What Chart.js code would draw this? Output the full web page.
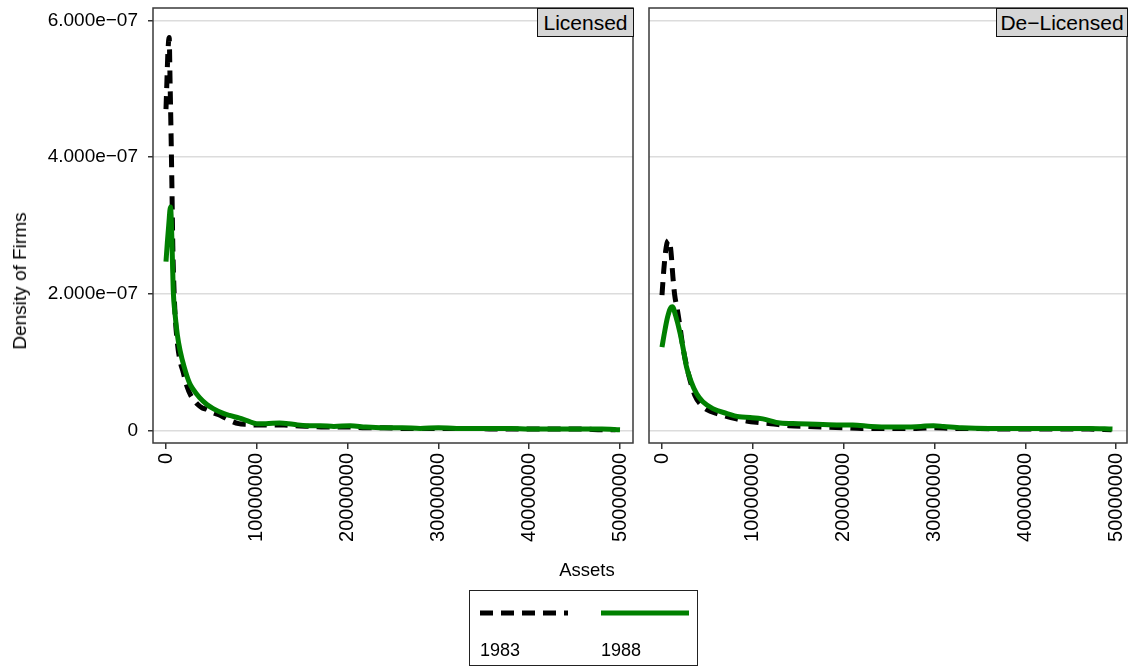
<!DOCTYPE html>
<html>
<head>
<meta charset="utf-8">
<script src="https://cdn.jsdelivr.net/npm/chart.js"></script>
<style>
body{margin:0;background:#fff;width:1129px;height:667px;position:relative;overflow:hidden;font-family:"Liberation Sans",Arial,sans-serif;color:#000}
.panel{position:absolute;top:0}
.strip{position:absolute;top:8px;height:29px;background:#d6d6d6;border:1px solid #111;font-size:21px;line-height:28px;text-align:center;box-sizing:border-box}
.ytitle{position:absolute;left:20px;top:281px;font-size:19px;white-space:nowrap;transform:translate(-50%,-50%) rotate(-90deg)}
.xtitle{position:absolute;left:587px;top:570px;font-size:18.5px;transform:translate(-50%,-50%)}
.legend{position:absolute;left:469px;top:590px;width:229px;height:76px;border:1px solid #222;box-sizing:border-box}
.legend span{position:absolute;top:49px;font-size:18px}
</style>
</head>
<body>
<div class="panel" style="left:0"><canvas id="lic" width="640" height="560"></canvas></div>
<div class="panel" style="left:640px"><canvas id="del" width="489" height="560"></canvas></div>
<div class="strip" style="left:537px;width:97px">Licensed</div>
<div class="strip" style="left:996px;width:132px">De&minus;Licensed</div>
<div class="ytitle">Density of Firms</div>
<div class="xtitle">Assets</div>
<div class="legend">
  <svg width="229" height="40" style="position:absolute;left:0;top:0">
    <line x1="10" y1="22" x2="98" y2="22" stroke="#000" stroke-width="5" stroke-dasharray="13 8"/>
    <line x1="131" y1="22" x2="219" y2="22" stroke="#008000" stroke-width="5"/>
  </svg>
  <span style="left:10px">1983</span>
  <span style="left:131px">1988</span>
</div>
<script>
// kernel densities
// assets in millions, density in units of 1e-7
const licAssets83 = [0,0.1,0.2,0.35,0.45,0.55,0.65,0.75,0.9,1.0,1.2,1.5,1.9,2.3,2.7,3.0,3.5,4.0,4.5,5.0,6,7,8,9,10,11,12,13,14,16,18,20,22,24,26,28,30,32,34,36,38,40,42,44,46,48,49.5];
const licDens83   = [4.7,5.1,5.5,5.75,5.1,4.4,3.6,2.7,2.0,1.7,1.35,1.05,0.85,0.65,0.52,0.46,0.38,0.33,0.31,0.27,0.22,0.15,0.1,0.09,0.08,0.08,0.08,0.08,0.07,0.06,0.05,0.05,0.04,0.04,0.03,0.03,0.03,0.03,0.03,0.02,0.02,0.02,0.02,0.02,0.02,0.01,0.01];
const licAssets88 = [0,0.15,0.3,0.5,0.65,0.8,1.0,1.25,1.55,2.0,2.6,3.0,3.7,4.5,5.2,6.3,7.0,8.1,9.0,10,11,12.5,14,15.5,17,18.5,20.3,22,24,26,28,30,32,34,36,38,40,42,44,46,48,50];
const licDens88   = [2.47,2.75,3.0,3.27,2.8,2.05,1.7,1.4,1.17,0.93,0.69,0.6,0.48,0.38,0.32,0.25,0.22,0.18,0.14,0.1,0.1,0.11,0.09,0.07,0.07,0.06,0.07,0.05,0.04,0.04,0.03,0.04,0.03,0.03,0.03,0.03,0.02,0.02,0.02,0.02,0.02,0.01];

const delAssets83 = [0,0.2,0.4,0.6,0.8,1.0,1.2,1.4,1.7,2.0,2.3,2.7,3.1,3.6,4.2,5.0,6,7,8.2,9.3,10.4,12,14,16,18,20,22,24,26,28,30,32,35,38,41,44,47,49.5];
const delDens83   = [1.98,2.35,2.62,2.76,2.78,2.6,2.25,1.98,1.76,1.5,1.22,0.95,0.73,0.52,0.39,0.3,0.25,0.21,0.17,0.14,0.12,0.1,0.07,0.06,0.05,0.04,0.03,0.03,0.03,0.03,0.04,0.03,0.03,0.02,0.02,0.02,0.02,0.01];
const delAssets88 = [0,0.3,0.6,0.9,1.15,1.5,2.0,2.4,2.7,3.2,3.8,4.5,5.6,7.1,8.5,9.7,11.1,13,15,17,19.6,21,23,25,27,28.5,29.9,31,33,36,39,42,45,47,49.6];
const delDens88   = [1.22,1.45,1.65,1.78,1.81,1.68,1.42,1.15,0.93,0.72,0.54,0.42,0.32,0.25,0.2,0.19,0.17,0.11,0.1,0.09,0.08,0.08,0.06,0.05,0.05,0.06,0.07,0.06,0.04,0.03,0.03,0.03,0.03,0.03,0.02];

const xTicks = [0,10000000,20000000,30000000,40000000,50000000];
const xTickLabels = ['0','10000000','20000000','30000000','40000000','50000000'];
const yTicks = [0,2e-7,4e-7,6e-7];
const yTickLabels = ['0','2.000e\u221207','4.000e\u221207','6.000e\u221207'];

Chart.defaults.font.family = '"Liberation Sans", Arial, sans-serif';
Chart.defaults.color = '#000';

function pts(a,d){
	return a.map((v,i)=>({x:v*1e6,y:d[i]*1e-7}));
}

// plot region box (stata draws a full frame)
const frame = {
	id:'frame',
	afterDatasetsDraw(chart){
		const a=chart.chartArea, c=chart.ctx;
		c.save();
		c.strokeStyle='#3a3a3a';
		c.lineWidth=1.5;
		c.strokeRect(a.left,a.top,a.right-a.left,a.bottom-a.top);
		c.restore();
	}
};

// labels may hang over the plot edges, no extra padding for them
function noPad(s){
	s.paddingTop=0;s.paddingBottom=0;s.paddingLeft=0;s.paddingRight=0;
}

function makePanel(id,a83,d83,a88,d88,yWidth,padRight,showY,xMax){
	return new Chart(document.getElementById(id),{
		type:'line',
		data:{
			datasets:[
				{label:'1983',data:pts(a83,d83),borderColor:'#000',borderWidth:5,borderDash:[13,8],borderCapStyle:'butt',pointRadius:0,cubicInterpolationMode:'monotone',order:1},
				{label:'1988',data:pts(a88,d88),borderColor:'#008000',borderWidth:5,borderJoinStyle:'round',pointRadius:0,cubicInterpolationMode:'monotone',order:0}
			]
		},
		options:{
			responsive:false,
			animation:false,
			devicePixelRatio:1,
			layout:{padding:{top:8,right:padRight,left:0,bottom:0}},
			plugins:{legend:{display:false},tooltip:{enabled:false}},
			scales:{
				x:{
					type:'linear',min:-1.43e6,max:xMax,
					afterBuildTicks:s=>{s.ticks=xTicks.map(v=>({value:v}));},
					afterFit:s=>{s.height=117;noPad(s);},
					ticks:{autoSkip:false,minRotation:90,maxRotation:90,padding:4,font:{size:20},
						callback:v=>xTickLabels[xTicks.indexOf(v)]},
					grid:{drawOnChartArea:false,tickLength:6,tickColor:'#333',lineWidth:1.5},
					border:{display:false}
				},
				y:{
					min:-0.183e-7,max:6.18e-7,
					afterBuildTicks:s=>{s.ticks=yTicks.map(v=>({value:v}));},
					afterFit:s=>{s.width=yWidth;noPad(s);},
					ticks:{display:showY,padding:10,font:{size:19},
						callback:v=>yTickLabels[yTicks.indexOf(v)]},
					grid:{color:'#dcdcdc',lineWidth:1.5,drawTicks:showY,tickLength:5,tickColor:'#333'},
					border:{display:false}
				}
			}
		},
		plugins:[frame]
	});
}

makePanel('lic',licAssets83,licDens83,licAssets88,licDens88,153,7,true,51.43e6);
makePanel('del',delAssets83,delDens83,delAssets88,delDens88,9,2,false,51.2e6);
</script>
</body>
</html>
